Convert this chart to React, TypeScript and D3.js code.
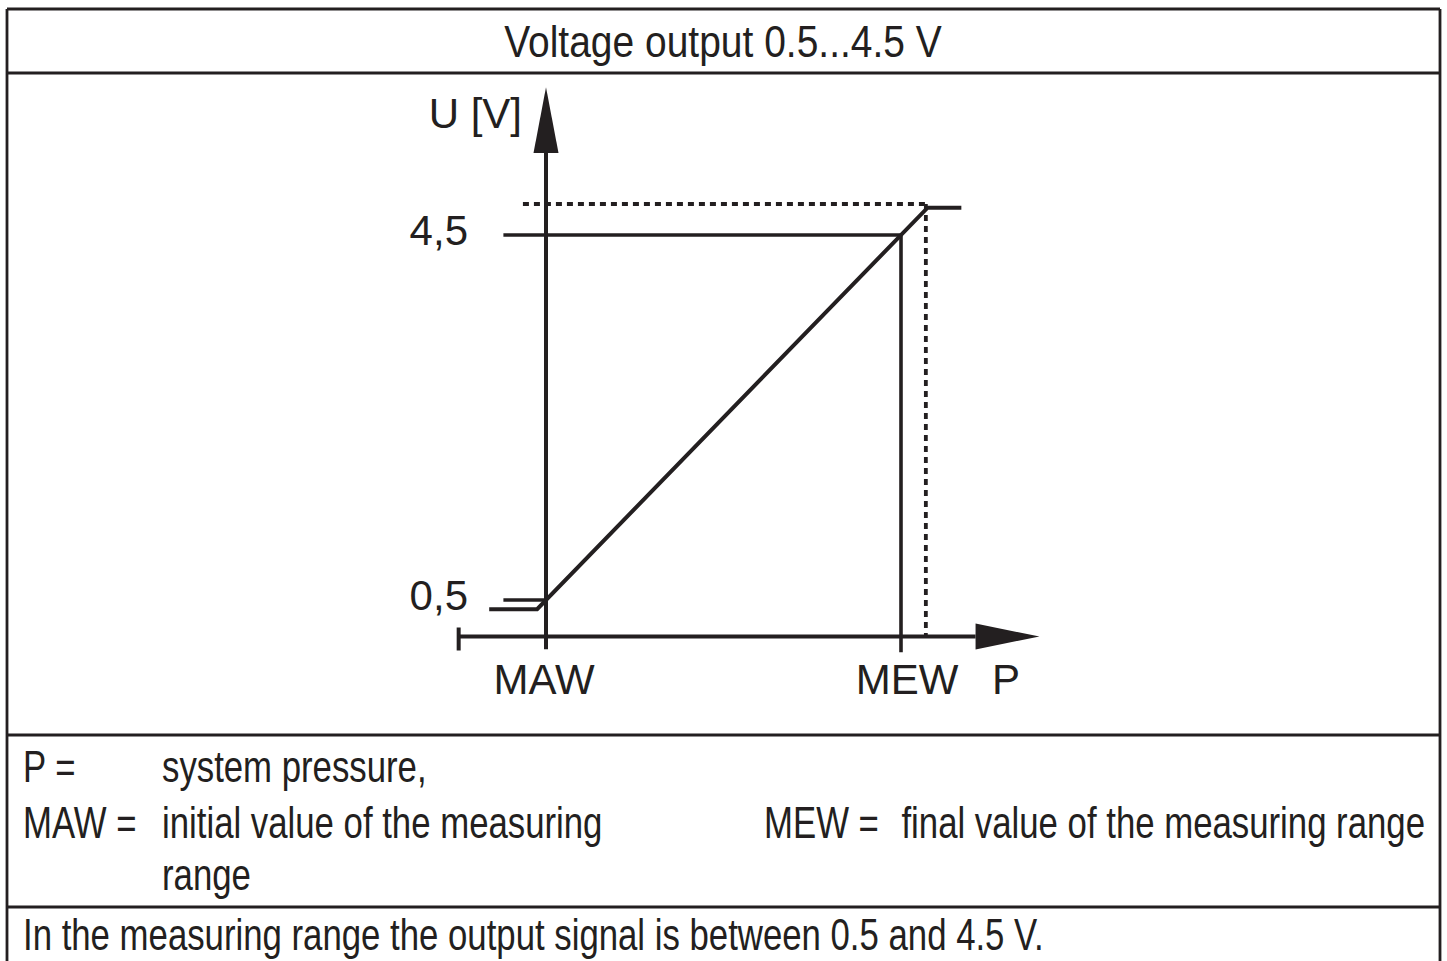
import React from 'react';
import * as d3 from 'd3';

// characteristic curve, P in % of measuring range (MAW = 0, MEW = 100)
const curveP = [-16, -2.5, 107.5, 117];
const curveU = [0.4, 0.4, 4.8, 4.8];

const tickValuesU = [0.5, 4.5];
const tickLabelsU = ['0,5', '4,5'];
const tickValuesP = [0, 100];
const tickLabelsP = ['MAW', 'MEW'];

const limitU = 4.84; // dotted saturation level
const limitP = 107;
const axisU = 0.1; // where the P axis sits
const floorU = -0.04;

const title = 'Voltage output 0.5...4.5 V';
const legendKeys = ['P =', 'MAW =', 'MEW ='];
const legendTexts = ['system pressure,', 'initial value of the measuring', 'final value of the measuring range'];
const footnote = 'In the measuring range the output signal is between 0.5 and 4.5 V.';

const W = 1447;
const H = 961;
const INK = '#231f20';
const FONT = '"Liberation Sans", Arial, Helvetica, sans-serif';

const x = d3.scaleLinear().domain([0, 100]).range([546, 901]);
const y = d3.scaleLinear().domain([0.5, 4.5]).range([600, 235]);

const Narrow: React.FC<{ x: number; y: number; sx: number; size?: number; anchor?: string; children: string }> = ({
  x: tx, y: ty, sx, size = 44, anchor = 'start', children,
}) => (
  <text
    transform={`translate(${tx},${ty}) scale(${sx},1)`}
    fontSize={size}
    fontFamily={FONT}
    fill={INK}
    textAnchor={anchor}
  >
    {children}
  </text>
);

const App: React.FC = () => {
  const line = d3.line<number>().x((_, i) => x(curveP[i])).y(d => y(d));
  const y0 = y(axisU);

  const pStart = x(-24.6);
  const pArrowBase = x(121);
  const pArrowTip = x(139);
  const uArrowBase = y(5.4);
  const uArrowTip = y(6.12);

  const rows = [73, 735, 907];

  return (
    <svg width={W} height={H} style={{ position: 'absolute', left: 0, top: 0, background: '#fff' }}>
      {/* table frame */}
      <g stroke={INK} strokeWidth={2.8}>
        <line x1={7} x2={1440} y1={9} y2={9} />
        <line x1={7} x2={7} y1={9} y2={H} />
        <line x1={1440} x2={1440} y1={9} y2={H} />
        {rows.map(r => (
          <line key={r} x1={7} x2={1440} y1={r} y2={r} />
        ))}
      </g>

      <Narrow x={723} y={57} sx={0.886} anchor="middle">{title}</Narrow>

      {/* dotted saturation limits */}
      <g stroke={INK} strokeWidth={3.8} strokeDasharray="6 5" fill="none">
        <line x1={x(-6.5)} x2={x(limitP)} y1={y(limitU)} y2={y(limitU)} />
        <line x1={x(limitP)} x2={x(limitP)} y1={y(limitU)} y2={y0} />
      </g>

      {/* reference lines for 0,5 / 4,5 and MEW */}
      <g stroke={INK} strokeWidth={3.6}>
        <line x1={x(-12)} x2={x(100)} y1={y(4.5)} y2={y(4.5)} />
        <line x1={x(-12)} x2={x(0)} y1={y(0.5)} y2={y(0.5)} />
        <line x1={x(100)} x2={x(100)} y1={y(4.5)} y2={y(floorU) + 3} />
      </g>

      {/* axes */}
      <g stroke={INK} strokeWidth={4}>
        <line x1={x(0)} x2={x(0)} y1={y(floorU)} y2={uArrowBase} />
        <line x1={pStart} x2={pArrowBase} y1={y0} y2={y0} />
        <line x1={pStart} x2={pStart} y1={y0 - 9} y2={y0 + 14} />
      </g>
      <path
        d={`M${x(0) - 12.5},${uArrowBase} L${x(0)},${uArrowTip} L${x(0) + 12.5},${uArrowBase} Z`}
        fill={INK}
      />
      <path
        d={`M${pArrowBase},${y0 - 13} L${pArrowTip},${y0} L${pArrowBase},${y0 + 13} Z`}
        fill={INK}
      />

      {/* characteristic */}
      <path d={line(curveU) ?? ''} fill="none" stroke={INK} strokeWidth={4} strokeLinejoin="miter" />

      {/* axis labels */}
      <g fontFamily={FONT} fontSize={42} fill={INK}>
        {tickValuesU.map((v, i) => (
          <text key={v} x={468} y={y(v) + 10} textAnchor="end">{tickLabelsU[i]}</text>
        ))}
        {tickValuesP.map((v, i) => (
          <text key={v} x={x(v) + (i === 0 ? -2 : 6)} y={694} textAnchor="middle">{tickLabelsP[i]}</text>
        ))}
        <text x={522} y={128} textAnchor="end">U [V]</text>
        <text x={992} y={694}>P</text>
      </g>

      {/* legend */}
      <Narrow x={23} y={782} sx={0.79}>{legendKeys[0]}</Narrow>
      <Narrow x={162} y={782} sx={0.79}>{legendTexts[0]}</Narrow>
      <Narrow x={23} y={838} sx={0.79}>{legendKeys[1]}</Narrow>
      <Narrow x={162} y={838} sx={0.79}>{legendTexts[1]}</Narrow>
      <Narrow x={162} y={890} sx={0.79}>range</Narrow>
      <Narrow x={764} y={838} sx={0.79}>{legendKeys[2]}</Narrow>
      <Narrow x={1425} y={838} sx={0.79} anchor="end">{legendTexts[2]}</Narrow>

      <Narrow x={23} y={950} sx={0.79}>{footnote}</Narrow>
    </svg>
  );
};

export default App;
